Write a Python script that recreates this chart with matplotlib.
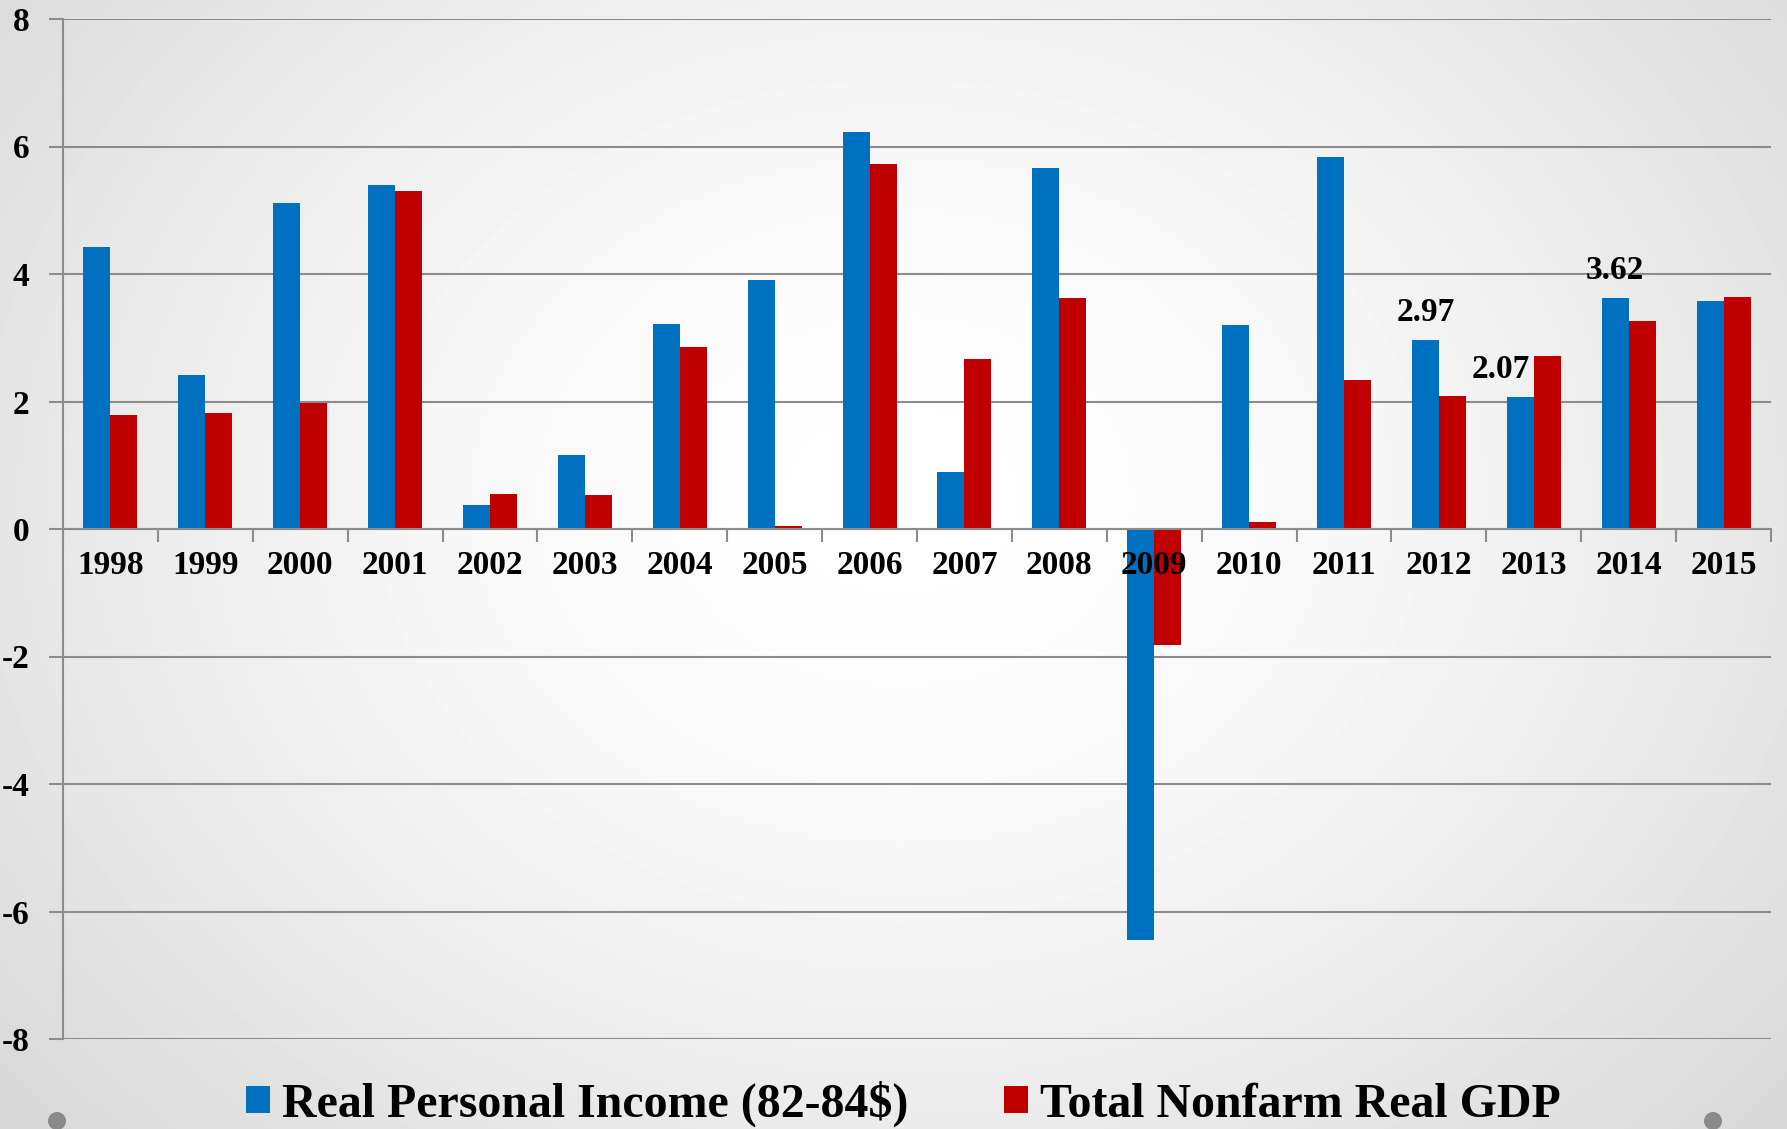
import numpy as np
import matplotlib
matplotlib.use("Agg")
import matplotlib.pyplot as plt
from matplotlib.patches import Circle, Patch
from matplotlib.ticker import FixedLocator

years = ["1998", "1999", "2000", "2001", "2002", "2003", "2004", "2005", "2006",
         "2007", "2008", "2009", "2010", "2011", "2012", "2013", "2014", "2015"]
real_personal_income = [4.43, 2.41, 5.11, 5.39, 0.37, 1.16, 3.21, 3.91, 6.23,
                        0.89, 5.66, -6.45, 3.20, 5.84, 2.97, 2.07, 3.62, 3.57]
nonfarm_real_gdp = [1.79, 1.82, 1.98, 5.30, 0.55, 0.54, 2.86, 0.04, 5.73,
                    2.66, 3.63, -1.82, 0.11, 2.34, 2.09, 2.72, 3.27, 3.64]
annotated_years = ["2012", "2013", "2014"]
yticks = [-8, -6, -4, -2, 0, 2, 4, 6, 8]

series_names = ["Real Personal Income (82-84$)", "Total Nonfarm Real GDP"]
blue = "#0070C0"
red = "#C00000"
grid_c = "#8c8c8c"
font = ["Liberation Serif", "DejaVu Serif"]

W, H, DPI = 1787, 1129, 100
fig = plt.figure(figsize=(W / DPI, H / DPI), dpi=DPI)

# background radial gradient
bg = fig.add_axes([0, 0, 1, 1], zorder=-10)
yy, xx = np.mgrid[0:H, 0:W]
r = np.sqrt(((xx - 900) / 1000.0) ** 2 + ((yy - 500) / 800.0) ** 2)
img = 1.0 - 0.12 * np.clip(r, 0, 1.3) ** 1.6
bg.imshow(img, cmap="gray", vmin=0, vmax=1, aspect="auto", extent=[0, 1, 0, 1], interpolation="bilinear")
bg.set_axis_off()

ax = fig.add_axes([63 / W, 1 - 1039 / H, (1771 - 63) / W, (1039 - 19) / H])
ax.patch.set_alpha(0)

x = np.arange(len(years))
bw = 0.285
ax.bar(x - bw / 2, real_personal_income, bw, color=blue, linewidth=0, zorder=3, label=series_names[0])
ax.bar(x + bw / 2, nonfarm_real_gdp, bw, color=red, linewidth=0, zorder=3, label=series_names[1])

ax.set_xlim(-0.5, len(years) - 0.5)
ax.set_ylim(-8, 8)
ax.set_yticks(yticks)
ax.set_yticklabels([str(v) for v in yticks], fontfamily=font, fontweight="bold", fontsize=24)
ax.yaxis.grid(True, color=grid_c, linewidth=1.5)
ax.tick_params(axis="y", length=10, width=1.5, color=grid_c, pad=14)

for s in ["top", "right"]:
    ax.spines[s].set_visible(False)
ax.spines["left"].set_color(grid_c)
ax.spines["left"].set_linewidth(1.5)
ax.spines["bottom"].set_position(("data", 0))
ax.spines["bottom"].set_color(grid_c)
ax.spines["bottom"].set_linewidth(1.5)
ax.spines["bottom"].set_zorder(4)

ax.set_xticks(x)
ax.set_xticklabels(years, fontfamily=font, fontweight="bold", fontsize=24)
ax.xaxis.set_minor_locator(FixedLocator(np.arange(len(years) + 1) - 0.5))
ax.tick_params(axis="x", which="major", length=0, pad=15)
ax.tick_params(axis="x", which="minor", length=9, width=1.5, color=grid_c, direction="out")
ax.yaxis.set_zorder(1)
ax.xaxis.set_zorder(5)

label_dx = {"2013": -14}
for yr in annotated_years:
    i = years.index(yr)
    v = real_personal_income[i]
    ax.annotate(f"{v:.2f}", xy=(x[i] - bw / 2, v), xytext=(label_dx.get(yr, 0), 13.5),
                textcoords="offset points", ha="center", va="baseline",
                fontfamily=font, fontweight="bold", fontsize=24, zorder=6)

handles = [Patch(facecolor=blue, edgecolor="none"), Patch(facecolor=red, edgecolor="none")]
fig.legend(handles, series_names, loc="center", bbox_to_anchor=(903 / W, 1 - 1104 / H), ncol=2,
           frameon=False, prop={"family": font, "weight": "bold", "size": 34.5},
           handlelength=0.5, handleheight=0.5, handletextpad=0.25, columnspacing=2.0,
           borderaxespad=0, borderpad=0)

for cx in (57, 1713):
    fig.add_artist(Circle((cx / DPI, (H - 1121) / DPI), 0.09, transform=fig.dpi_scale_trans,
                          facecolor="#8a8a8a", edgecolor="none"))

fig.savefig("out.png", dpi=DPI)
